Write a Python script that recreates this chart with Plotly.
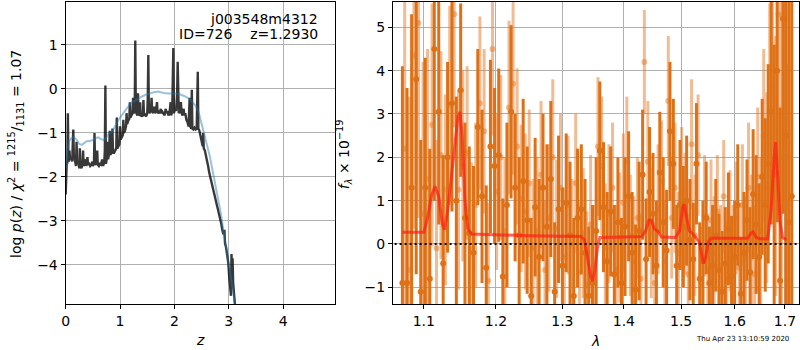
import plotly.graph_objects as go

# ---------------- left panel: p(z) ----------------
z_grid = [0.00, 0.01, 0.02, 0.03, 0.04, 0.05, 0.06, 0.07, 0.08, 0.10,
          0.12, 0.13, 0.14, 0.15, 0.17, 0.19, 0.20, 0.21, 0.23, 0.25,
          0.26, 0.27, 0.29, 0.31, 0.32, 0.33, 0.35, 0.37, 0.38, 0.40,
          0.41, 0.43, 0.45, 0.47, 0.49, 0.50, 0.52, 0.53, 0.54, 0.56,
          0.58, 0.59, 0.61, 0.63, 0.65, 0.67, 0.69, 0.71, 0.72, 0.73,
          0.74, 0.76, 0.77, 0.78, 0.80, 0.81, 0.82, 0.84, 0.86, 0.87,
          0.89, 0.91, 0.93, 0.94, 0.95, 0.97, 0.99, 1.00, 1.01, 1.03,
          1.05, 1.06, 1.07, 1.09, 1.11, 1.12, 1.13, 1.15, 1.17, 1.18,
          1.19, 1.21, 1.23, 1.24, 1.25, 1.27, 1.28, 1.29, 1.30, 1.32,
          1.33, 1.34, 1.36, 1.37, 1.38, 1.40, 1.42, 1.43, 1.44, 1.46,
          1.48, 1.50, 1.51, 1.52, 1.53, 1.55, 1.57, 1.58, 1.59, 1.61,
          1.63, 1.64, 1.66, 1.68, 1.69, 1.71, 1.73, 1.75, 1.76, 1.78,
          1.80, 1.82, 1.84, 1.85, 1.87, 1.89, 1.91, 1.93, 1.94, 1.96,
          1.98, 1.99, 2.01, 2.03, 2.05, 2.06, 2.08, 2.10, 2.12, 2.13,
          2.15, 2.17, 2.18, 2.20, 2.22, 2.24, 2.26, 2.28, 2.29, 2.31,
          2.32, 2.33, 2.35, 2.37, 2.39, 2.41, 2.43, 2.44, 2.46, 2.48,
          2.50, 2.52, 2.53, 2.54, 2.56, 2.58, 2.60, 2.62, 2.64, 2.66,
          2.68, 2.70, 2.72, 2.74, 2.76, 2.78, 2.80, 2.82, 2.84, 2.86,
          2.88, 2.90, 2.92, 2.93, 2.95, 2.97, 2.99, 3.01, 3.03, 3.04,
          3.05, 3.06, 3.07, 3.08, 3.10, 3.12]
log_pz = [-2.40, -1.90, -1.65, -1.70, -0.55, -1.55, -1.65, -1.40, -1.60, -1.55,
          -1.65, -1.25, -0.92, -1.50, -1.60, -1.75, -1.20, -1.70, -1.65, -1.80,
          -1.35, -1.75, -1.80, -1.70, -1.40, -1.75, -1.70, -1.60, -1.75, -1.55,
          -1.72, -1.70, -1.75, -1.72, -1.65, -1.75, -1.70, -1.00, -1.70, -1.72,
          -1.40, -1.72, -1.75, -1.70, -1.72, -1.60, -1.75, -1.65, -1.40, 0.08,
          -1.70, -1.55, -1.20, -1.60, -1.45, -0.95, -1.50, -1.45, -0.90, -1.45,
          -1.45, -1.40, -1.35, -0.65, -1.35, -1.30, -1.25, -0.85, -1.15, -1.10,
          -1.05, -0.70, -1.00, -0.95, -0.85, -0.55, -0.80, -0.72, -0.68, -0.30,
          -0.65, -0.60, -0.55, -0.20, -0.55, -0.50, 1.10, -0.45, -0.55, -0.60,
          -0.10, -0.55, -0.60, -0.30, -0.62, -0.60, -0.62, -0.25, -0.60, -0.58,
          -0.62, -0.55, -0.20, 0.77, -0.50, -0.55, -0.45, -0.20, -0.50, -0.55,
          -0.40, -0.55, -0.50, -0.30, -0.55, -0.52, -0.55, -0.45, -0.55, -0.52,
          -0.55, -0.60, -0.45, -0.55, -0.50, -0.60, -0.55, -0.30, -0.60, -0.50,
          0.93, -0.55, -0.45, -0.50, -0.10, 0.62, -0.55, -0.50, -0.30, -0.55,
          -0.60, -0.45, -0.60, -0.55, -0.70, -0.75, -0.85, -0.20, -0.85, -0.90,
          -0.02, -0.90, -0.92, -0.88, -0.92, -0.90, 0.39, -0.90, -0.95, -1.05,
          -1.20, -1.30, -1.00, -1.35, -1.40, -1.50, -1.60, -1.75, -1.90, -2.00,
          -2.10, -2.20, -2.30, -2.40, -2.50, -2.60, -2.70, -2.80, -2.90, -3.05,
          -3.20, -3.30, -3.20, -3.50, -3.60, -3.80, -3.95, -4.30, -4.60, -4.70,
          -3.75, -4.20, -3.85, -4.40, -4.70, -5.00]

z_prior = [0.00, 0.03, 0.06, 0.10, 0.15, 0.20, 0.25, 0.30, 0.35, 0.40,
           0.45, 0.50, 0.55, 0.60, 0.65, 0.70, 0.75, 0.80, 0.85, 0.90,
           0.95, 1.00, 1.05, 1.10, 1.15, 1.20, 1.30, 1.40, 1.50, 1.60,
           1.70, 1.75, 1.80, 1.90, 2.00, 2.10, 2.20, 2.30, 2.40, 2.45,
           2.50, 2.55, 2.60, 2.65, 2.70, 2.75, 2.80, 2.85, 2.90, 2.95,
           3.00, 3.05, 3.10, 3.13]
log_prior = [-1.80, -1.40, -1.20, -1.12, -1.10, -1.15, -1.25, -1.27, -1.22, -1.18,
             -1.18, -1.16, -1.12, -1.10, -1.14, -1.16, -1.10, -1.00, -0.98, -0.85,
             -0.75, -0.65, -0.55, -0.48, -0.40, -0.32, -0.25, -0.17, -0.12, -0.08,
             -0.06, -0.08, -0.09, -0.10, -0.10, -0.12, -0.17, -0.25, -0.40, -0.55,
             -0.78, -1.00, -1.24, -1.52, -1.84, -2.15, -2.45, -2.80, -3.20, -3.60,
             -4.04, -4.40, -4.80, -5.00]

# ---------------- right panel: spectrum ----------------
lam_a = [1.072, 1.078, 1.084, 1.090, 1.096, 1.102, 1.108, 1.114, 1.120, 1.126,
         1.132, 1.138, 1.144, 1.150, 1.156, 1.162, 1.168, 1.174, 1.180, 1.186,
         1.192, 1.198, 1.204, 1.210, 1.216, 1.222, 1.228, 1.234, 1.240, 1.246,
         1.252, 1.258, 1.264, 1.270, 1.276, 1.282, 1.288, 1.294, 1.300, 1.306,
         1.312, 1.318, 1.324, 1.330, 1.336, 1.342, 1.348, 1.354, 1.360, 1.366,
         1.372, 1.378, 1.384, 1.390, 1.396, 1.402, 1.408, 1.414, 1.420, 1.426,
         1.432, 1.438, 1.444, 1.450, 1.456, 1.462, 1.468, 1.474, 1.480, 1.486,
         1.492, 1.498, 1.504, 1.510, 1.516, 1.522, 1.528, 1.534, 1.540, 1.546,
         1.552, 1.558, 1.564, 1.570, 1.576, 1.582, 1.588, 1.594, 1.600, 1.606,
         1.612, 1.618, 1.624, 1.630, 1.636, 1.642, 1.648, 1.654, 1.660, 1.666,
         1.672, 1.678, 1.684, 1.690, 1.696, 1.702, 1.708, 1.714]
flux_a = [-0.90, -0.90, 1.30, 3.80, -1.10, 1.30, -0.80, 4.50, 3.05, -0.45,
          2.00, 3.25, 1.00, 3.55, 0.60, 0.25, -0.20, 2.70, 1.10, -0.55,
          2.25, 1.80, 2.05, -0.75, 0.90, 3.05, 1.30, 0.20, 1.45, 0.55,
          -1.20, 0.85, -0.30, 1.30, 0.40, 1.50, -1.10, 0.80, -0.50, 0.95,
          0.20, -1.20, 0.60, 0.80, -0.20, -1.20, -0.90, 0.30, 2.15, 0.85,
          -0.40, 0.75, -0.70, 0.50, -0.90, 0.40, 1.10, -0.20, -1.05, 0.30,
          1.60, -0.35, 1.20, 0.70, -0.50, 1.65, 0.50, -0.15, 2.60, 1.85,
          -0.50, 0.90, 0.40, 1.00, 0.10, -0.35, 1.85, -0.80, -0.40, 0.60,
          -0.90, -0.50, 0.20, -0.60, -1.10, -0.45, 0.35, -0.75, -0.30, 0.90,
          -1.15, -0.20, 0.55, -0.65, 1.15, 0.45, -0.30, 1.55, 0.90, 1.85,
          3.05, 1.60, 4.00, -0.85, 5.20, 2.50, 0.50, 1.10]
err_a = [5.0, 4.5, 4.0, 4.5, 3.5, 3.0, 3.0, 3.5, 2.6, 2.5,
         2.2, 2.5, 2.4, 2.0, 2.2, 2.0, 2.0, 1.8, 2.0, 1.9,
         2.0, 1.8, 2.0, 1.8, 1.9, 2.0, 1.7, 1.8, 1.9, 1.7,
         1.8, 1.6, 1.8, 1.7, 1.9, 1.8, 1.6, 1.7, 1.8, 1.6,
         1.7, 1.8, 1.6, 1.5, 1.7, 1.6, 1.8, 1.7, 1.6, 1.5,
         1.6, 1.5, 1.6, 1.5, 1.5, 1.6, 1.5, 1.4, 1.5, 1.6,
         1.5, 1.4, 1.5, 1.4, 1.5, 1.4, 1.5, 1.4, 1.6, 1.5,
         1.4, 1.5, 1.4, 1.5, 1.4, 1.3, 1.4, 1.3, 1.4, 1.3,
         1.3, 1.4, 1.3, 1.3, 1.4, 1.3, 1.3, 1.4, 1.3, 1.4,
         1.3, 1.4, 1.4, 1.5, 1.5, 1.6, 1.7, 1.8, 2.0, 2.3,
         2.6, 3.0, 3.5, 4.0, 4.5, 5.0, 5.5, 6.0]

lam_b = [1.075, 1.081, 1.087, 1.093, 1.099, 1.105, 1.111, 1.117, 1.123, 1.129,
         1.135, 1.141, 1.147, 1.153, 1.159, 1.165, 1.171, 1.177, 1.183, 1.189,
         1.195, 1.201, 1.207, 1.213, 1.219, 1.225, 1.231, 1.237, 1.243, 1.249,
         1.255, 1.261, 1.267, 1.273, 1.279, 1.285, 1.291, 1.297, 1.303, 1.309,
         1.315, 1.321, 1.327, 1.333, 1.339, 1.345, 1.351, 1.357, 1.363, 1.369,
         1.375, 1.381, 1.387, 1.393, 1.399, 1.405, 1.411, 1.417, 1.423, 1.429,
         1.435, 1.441, 1.447, 1.453, 1.459, 1.465, 1.471, 1.477, 1.483, 1.489,
         1.495, 1.501, 1.507, 1.513, 1.519, 1.525, 1.531, 1.537, 1.543, 1.549,
         1.555, 1.561, 1.567, 1.573, 1.579, 1.585, 1.591, 1.597, 1.603, 1.609,
         1.615, 1.621, 1.627, 1.633, 1.639, 1.645, 1.651, 1.657, 1.663, 1.669,
         1.675, 1.681, 1.687, 1.693, 1.699, 1.705]
flux_b = [2.20, -0.60, 4.35, 5.10, 0.70, 1.50, 2.75, -0.10, 2.05, 1.25,
          3.20, 5.30, 1.25, 1.80, 2.10, -0.12, 0.90, 3.25, 2.60, -0.85,
          4.50, 1.20, 2.00, 0.30, 3.15, 3.70, 2.25, 1.05, 0.75, 1.40,
          -0.10, 0.30, 1.60, -0.60, 0.60, 2.00, 0.35, 1.30, -0.30, 0.90,
          0.00, 1.40, -0.65, 0.25, -0.95, 0.45, -0.80, 2.25, 1.80, -0.10,
          0.70, 1.30, -0.60, 0.15, 0.95, 1.90, 0.20, -0.40, 0.60, -0.80,
          4.20, 1.90, 0.25, -0.90, 0.80, 1.45, -0.40, 3.30, 0.60, 1.30,
          -0.20, 1.20, 0.70, -0.70, 2.30, 0.20, 2.05, -0.90, 0.65, -0.60,
          0.55, -0.20, 0.75, -0.50, 1.10, -0.80, 0.30, -0.40, 0.60, -0.55,
          0.90, -0.30, 1.30, 0.10, -0.70, 1.55, 0.30, 2.50, 1.30, 3.05,
          3.65, 1.80, 5.30, 2.00, 5.20, -0.85]
err_b = [4.5, 4.0, 4.0, 4.5, 3.5, 3.0, 2.8, 2.5, 2.4, 2.2,
         2.3, 2.6, 2.3, 2.2, 2.0, 2.0, 1.9, 2.0, 1.9, 1.8,
         2.0, 1.8, 1.9, 1.7, 2.0, 2.1, 1.8, 1.7, 1.8, 1.7,
         1.6, 1.7, 1.7, 1.6, 1.7, 1.8, 1.6, 1.7, 1.6, 1.6,
         1.5, 1.6, 1.6, 1.5, 1.7, 1.6, 1.7, 1.6, 1.6, 1.5,
         1.6, 1.5, 1.5, 1.5, 1.6, 1.5, 1.4, 1.5, 1.4, 1.5,
         1.2, 1.4, 1.5, 1.4, 1.5, 1.4, 1.4, 1.5, 1.4, 1.5,
         1.4, 1.5, 1.4, 1.4, 1.5, 1.4, 1.4, 1.3, 1.4, 1.3,
         1.4, 1.3, 1.3, 1.4, 1.3, 1.3, 1.4, 1.3, 1.3, 1.4,
         1.4, 1.4, 1.5, 1.5, 1.6, 1.6, 1.7, 2.0, 2.2, 2.5,
         2.7, 3.0, 3.5, 4.0, 4.5, 5.0]

lam_model = [1.072, 1.100, 1.105, 1.110, 1.115, 1.120, 1.125, 1.128, 1.133, 1.140,
             1.146, 1.149, 1.152, 1.156, 1.160, 1.165, 1.200, 1.250, 1.300, 1.330,
             1.335, 1.340, 1.345, 1.348, 1.352, 1.356, 1.360, 1.400, 1.430, 1.437,
             1.443, 1.447, 1.452, 1.458, 1.465, 1.490, 1.497, 1.503, 1.506, 1.510,
             1.515, 1.520, 1.527, 1.533, 1.537, 1.541, 1.545, 1.550, 1.555, 1.600,
             1.625, 1.632, 1.636, 1.642, 1.650, 1.665, 1.672, 1.678, 1.681, 1.685,
             1.690, 1.695, 1.703]
flux_model = [0.27, 0.27, 0.60, 1.10, 1.33, 1.10, 0.45, 0.33, 0.90, 2.00,
              2.90, 3.05, 2.50, 1.00, 0.35, 0.23, 0.21, 0.19, 0.18, 0.17,
              0.10, -0.30, -0.75, -0.85, -0.60, -0.10, 0.15, 0.16, 0.17, 0.30,
              0.55, 0.55, 0.35, 0.30, 0.16, 0.15, 0.30, 0.85, 0.92, 0.60,
              0.30, 0.25, 0.15, 0.05, -0.20, -0.45, -0.30, 0.05, 0.13, 0.12,
              0.13, 0.25, 0.28, 0.15, 0.12, 0.12, 0.80, 2.00, 2.35, 1.60,
              0.50, 0.15, 0.10]

lam_zero = [1.062, 1.729]
zero_line = [0.0, 0.0]

z_ticks = [0, 1, 2, 3, 4]
logp_ticks = [-4, -3, -2, -1, 0, 1]
lam_ticks = [1.1, 1.2, 1.3, 1.4, 1.5, 1.6, 1.7]
flux_ticks = [-1, 0, 1, 2, 3, 4, 5]

# ---------------- figure ----------------
W, H = 800, 350
FONT = "DejaVu Sans"

def px_x(p):
    return p / W

def px_y(p):
    return 1 - p / H

fig = go.Figure()

fig.add_trace(go.Scatter(x=z_grid, y=log_pz, mode="lines",
                         line=dict(color="rgba(0,0,0,0.78)", width=2.4),
                         xaxis="x", yaxis="y", showlegend=False))
fig.add_trace(go.Scatter(x=z_prior, y=log_prior, mode="lines",
                         line=dict(color="rgba(31,119,180,0.45)", width=2),
                         xaxis="x", yaxis="y", showlegend=False))

light = "rgba(228,122,40,0.5)"
dark = "rgb(222,112,22)"
fig.add_trace(go.Scatter(x=lam_b, y=flux_b, mode="markers",
                         marker=dict(color=light, size=6, line=dict(width=0)),
                         error_y=dict(type="data", array=err_b, color=light,
                                      thickness=3, width=0),
                         xaxis="x2", yaxis="y2", showlegend=False))
fig.add_trace(go.Scatter(x=lam_a, y=flux_a, mode="markers",
                         marker=dict(color=dark, size=6, line=dict(width=0)),
                         error_y=dict(type="data", array=err_a, color=dark,
                                      thickness=3, width=0),
                         xaxis="x2", yaxis="y2", showlegend=False))
fig.add_trace(go.Scatter(x=lam_model, y=flux_model, mode="lines",
                         line=dict(color="rgba(255,30,20,0.7)", width=3),
                         xaxis="x2", yaxis="y2", showlegend=False))
fig.add_trace(go.Scatter(x=lam_zero, y=zero_line, mode="lines",
                         line=dict(color="black", width=2, dash="2px,3px"),
                         xaxis="x2", yaxis="y2", showlegend=False))

axis_common = dict(showgrid=True, gridcolor="#b0b0b0", gridwidth=1,
                   showline=True, linecolor="black", linewidth=1.2, mirror=True,
                   ticks="outside", ticklen=4, tickcolor="black", tickwidth=1,
                   zeroline=False,
                   tickfont=dict(family=FONT, size=14, color="black"))

y_dom = [px_y(304), px_y(2)]
fig.update_layout(
    width=W, height=H,
    margin=dict(l=0, r=0, t=0, b=0),
    paper_bgcolor="white", plot_bgcolor="white",
    font=dict(family=FONT, color="black"),
    xaxis=dict(domain=[px_x(62), px_x(333)], range=[0, 4.96],
               tickvals=z_ticks, anchor="y", **axis_common),
    yaxis=dict(domain=y_dom, range=[-4.887, 1.977],
               tickvals=logp_ticks,
               ticktext=[("\u2212" + str(-v)) if v < 0 else str(v) for v in logp_ticks],
               anchor="x", **axis_common),
    xaxis2=dict(domain=[px_x(391), px_x(799)], type="log",
                range=[0.025306, 0.237795],
                tickvals=lam_ticks, ticktext=[f"{v:.1f}" for v in lam_ticks],
                anchor="y2", **axis_common),
    yaxis2=dict(domain=y_dom, range=[-1.385, 5.584],
                tickvals=flux_ticks,
                ticktext=[("\u2212" + str(-v)) if v < 0 else str(v) for v in flux_ticks],
                anchor="x2", **axis_common),
)

nb = "\u00a0"
annots = [
    dict(text="j003548m4312", x=px_x(318), y=px_y(19), xanchor="right", yanchor="middle",
         font=dict(size=14)),
    dict(text=f"ID=726{nb*4}z=1.2930", x=px_x(318), y=px_y(34), xanchor="right",
         yanchor="middle", font=dict(size=14)),
    dict(text="<i>z</i>", x=px_x(197), y=px_y(340), xanchor="center", yanchor="middle",
         font=dict(size=14)),
    dict(text="<i>λ</i>", x=px_x(594), y=px_y(341), xanchor="center", yanchor="middle",
         font=dict(size=14)),
    dict(text="log <i>p</i>(<i>z</i>) / <i>χ</i><sup>2</sup> = <sup>1215</sup>/<sub>1131</sub> = 1.07",
         x=px_x(12), y=px_y(154), xanchor="center", yanchor="middle", textangle=-90,
         font=dict(size=14)),
    dict(text="<i>f</i><sub><i>λ</i></sub> × 10<sup>−19</sup>",
         x=px_x(342), y=px_y(154), xanchor="center", yanchor="middle", textangle=-90,
         font=dict(size=14)),
    dict(text="Thu Apr 23 13:10:59 2020", x=px_x(742), y=px_y(339), xanchor="center",
         yanchor="middle", font=dict(size=7)),
]
for a in annots:
    a.update(xref="paper", yref="paper", showarrow=False)
    a["font"]["family"] = FONT
    a["font"]["color"] = "black"
fig.update_layout(annotations=annots)

fig.write_html(
    "out.html",
    config={"displayModeBar": False},
    post_script="document.body.style.margin='0';document.body.style.overflow='hidden';",
)
